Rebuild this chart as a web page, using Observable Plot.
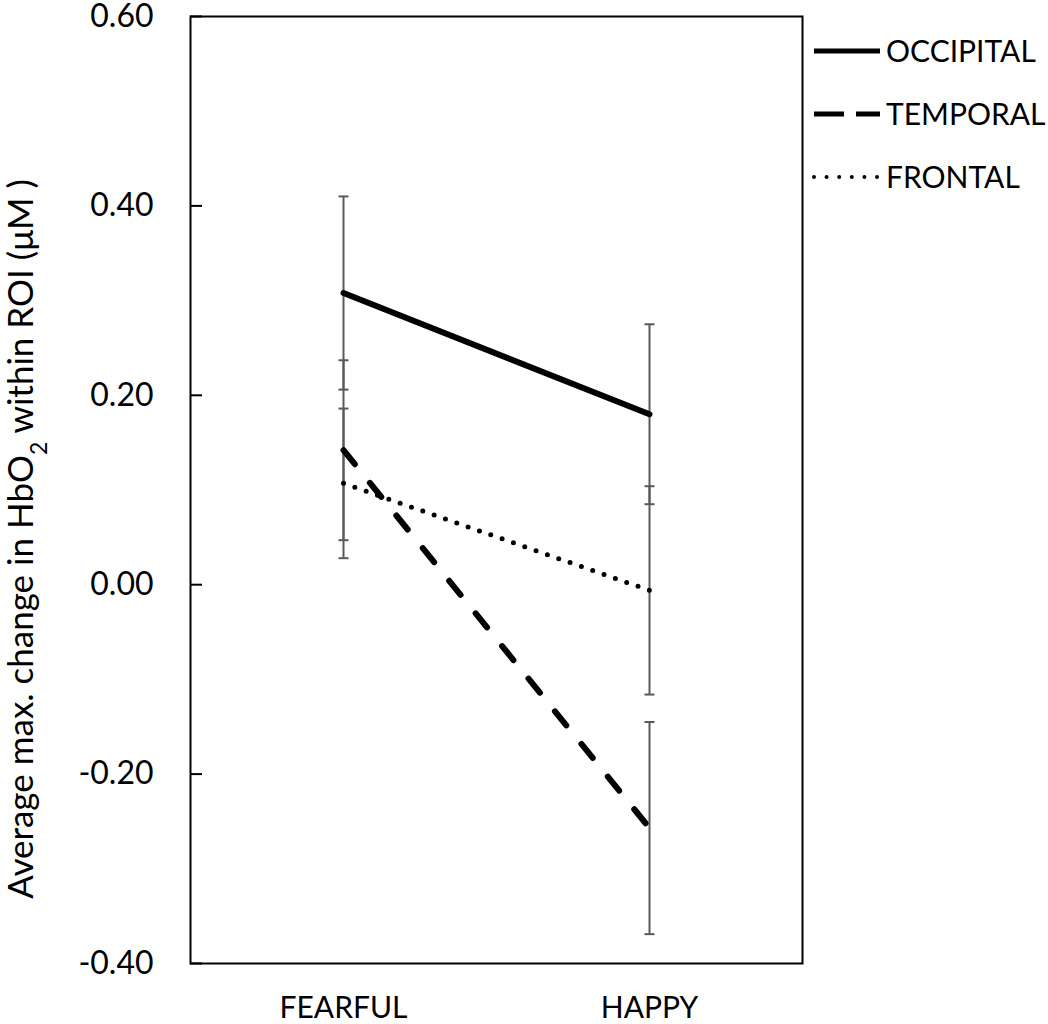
<!DOCTYPE html>
<html>
<head>
<meta charset="utf-8">
<script src="https://cdn.jsdelivr.net/npm/d3@7"></script>
<script src="https://cdn.jsdelivr.net/npm/@observablehq/plot@0.6"></script>
<style>
  html, body { margin: 0; padding: 0; background: white; }
  #chart { position: relative; width: 1048px; height: 1024px; }
</style>
</head>
<body>
<div id="chart"></div>
<script>
const categories = ["FEARFUL", "HAPPY"];
const regions = ["OCCIPITAL", "TEMPORAL", "FRONTAL"];
const occipital = [0.308, 0.180];
const occipitalErr = [0.102, 0.095];
const temporal = [0.142, -0.257];
const temporalErr = [0.095, 0.112];
const frontal = [0.107, -0.006];
const frontalErr = [0.079, 0.110];
const yTicks = [-0.4, -0.2, 0, 0.2, 0.4, 0.6];

const seriesValues = {OCCIPITAL: occipital, TEMPORAL: temporal, FRONTAL: frontal};
const seriesErrors = {OCCIPITAL: occipitalErr, TEMPORAL: temporalErr, FRONTAL: frontalErr};
const rows = [];
for (const r of regions) {
  categories.forEach((c, i) => {
    const v = seriesValues[r][i], e = seriesErrors[r][i];
    rows.push({region: r, category: c, value: v, lo: v - e, hi: v + e});
  });
}

const styles = {
  OCCIPITAL: {strokeWidth: 6, strokeDasharray: null},
  TEMPORAL: {strokeWidth: 6, strokeDasharray: "18,24"},
  FRONTAL: {strokeWidth: 5, strokeDasharray: "0,12"}
};

const capSymbol = {
  draw(ctx, size) {
    const r = Math.sqrt(size / Math.PI);
    ctx.moveTo(-r, 0);
    ctx.lineTo(r, 0);
  }
};

const font = "Lato, 'Open Sans', sans-serif";

const lineMarks = regions.map(r => Plot.line(rows.filter(d => d.region === r), {
  x: "category", y: "value", stroke: "black",
  strokeWidth: styles[r].strokeWidth,
  strokeDasharray: styles[r].strokeDasharray,
  strokeLinecap: "round"
}));

const svg = Plot.plot({
  width: 1048,
  height: 1024,
  marginLeft: 190,
  marginRight: 246,
  marginTop: 16,
  marginBottom: 61,
  style: {fontFamily: font, color: "black", background: "white", overflow: "visible"},
  x: {type: "point", domain: categories, padding: 0.5},
  y: {domain: [-0.4, 0.6]},
  marks: [
    Plot.ruleX(rows, {x: "category", y1: "lo", y2: "hi", stroke: "#595959", strokeWidth: 2}),
    Plot.dot(rows, {x: "category", y: "hi", symbol: capSymbol, r: 5, stroke: "#595959", strokeWidth: 2, fill: "none"}),
    Plot.dot(rows, {x: "category", y: "lo", symbol: capSymbol, r: 5, stroke: "#595959", strokeWidth: 2, fill: "none"}),
    ...lineMarks,
    Plot.frame({stroke: "black", strokeWidth: 2}),
    Plot.axisY(yTicks, {tickSize: 12, dx: 12, text: null, stroke: "black", strokeWidth: 2}),
    Plot.axisY(yTicks, {tickSize: 0, tickPadding: 37, tickFormat: d => d.toFixed(2), fontSize: 32, label: null}),
    Plot.axisX({tickSize: 0, tickPadding: 33, fontSize: 30, label: null})
  ]
});

const root = d3.select(svg);
// Y-axis title
const title = root.append("text")
  .attr("transform", "translate(33,539) rotate(-90)")
  .attr("text-anchor", "middle")
  .attr("fill", "black")
  .style("font-family", font)
  .style("font-size", "35px");
title.append("tspan").text("Average max. change in HbO");
title.append("tspan").attr("baseline-shift", "sub").style("font-size", "23px").text("2");
title.append("tspan").text(" within ROI (\u03BCM )");

// Legend
const legendY = [51, 114, 177];
const lg = root.append("g").attr("class", "legend");
regions.forEach((r, i) => {
  const g = lg.append("g").attr("transform", `translate(0,${legendY[i]})`);
  g.append("line")
    .attr("x1", 814).attr("x2", 880).attr("y1", 0).attr("y2", 0)
    .attr("stroke", "black")
    .attr("stroke-width", r === "FRONTAL" ? 4 : 5)
    .attr("stroke-linecap", r === "FRONTAL" ? "round" : "butt")
    .attr("stroke-dasharray", r === "TEMPORAL" ? "30,12" : r === "FRONTAL" ? "0,12.6" : null);
  g.append("text")
    .attr("x", 886).attr("y", 0).attr("dy", "0.36em")
    .attr("text-anchor", "start")
    .attr("fill", "black")
    .style("font-family", font)
    .style("font-size", "30px")
    .text(r);
});

document.getElementById("chart").appendChild(svg);
</script>
</body>
</html>
